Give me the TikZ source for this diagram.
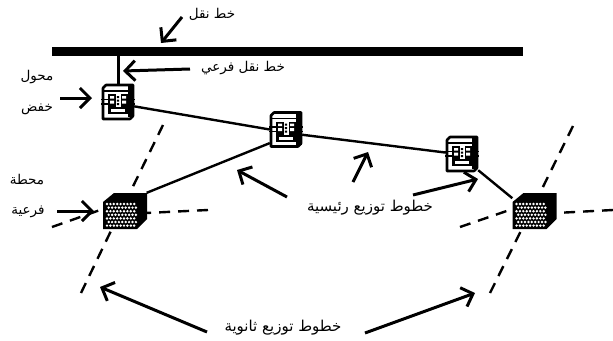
\documentclass[tikz,border=0pt]{standalone}
\usepackage{fontspec}
\usetikzlibrary{arrows.meta}
\TeXXeTstate=1
\newfontfamily\arabicfont[Script=Arabic]{DejaVu Sans}
\newcommand{\ar}[1]{{\arabicfont\beginR #1\endR}}
\tikzset{
  lbl/.style={inner sep=0pt,font=\fontsize{13.5}{15}\selectfont},
  lbllong/.style={inner sep=0pt,font=\fontsize{15}{17}\selectfont},
  conn/.style={line width=2.4pt},
  sec/.style={line width=2.4pt,dash pattern=on 11pt off 8pt},
  pointer/.style={line width=3pt,-{Straight Barb[length=10pt,width=20pt,line width=3pt]}},
  boxT/.style={minimum width=32pt,minimum height=36pt,inner sep=0pt},
  boxS/.style={minimum width=44pt,minimum height=36pt,inner sep=0pt}
}
\newcommand{\transformer}[3]{%
  \begin{scope}[shift={(#2,#3)}]
    \draw[fill=white,line width=2.6pt,line join=round] (-15,-14) -- (-12,-17) -- (15,-17) -- (15,14) -- (12,17) -- (-15,17) -- cycle;
    \fill[black] (10,-17) rectangle (15.5,15);
    \draw[line width=1.6pt] (-15,-11) -- (11,-11);
    \fill[black] (-10,-8) rectangle (10,12);
    \fill[white] (-7,7) rectangle (7,10);
    \fill[white] (-8,-6) rectangle (-4,-3.5) (-8,-1.5) rectangle (-4,1.5) (4,-6) rectangle (8,-3.5) (4,-1.5) rectangle (8,1.5);
    \fill[white] (-2.5,-8) rectangle (2.5,5);
    \fill[black] (-1.2,-6) rectangle (1.2,-4) (-1.2,-2.5) rectangle (1.2,-0.5) (-1.2,1) rectangle (1.2,3);
    \draw[line width=1.3pt] (-17,-2.5) -- (-9,-2.5) (-17,2) -- (-9,2) (9,-2.5) -- (17,-2.5) (9,2) -- (17,2);
  \end{scope}}
\newcommand{\station}[3]{%
  \begin{scope}[shift={(#2,#3)}]
    \fill[black] (-22,-9) -- (-11,-18) -- (22,-18) -- (22,8) -- (12,18) -- (-22,18) -- cycle;
    \foreach \r in {0,...,6}{
      \foreach \c in {0,...,8}{
        \fill[white] ({-18+3.4*\c+mod(\r,2)*1.7},{-7+3.6*\r}) circle (1.35pt);
      }
    }
  \end{scope}}
\begin{document}
\begin{tikzpicture}[x=1pt,y=-1pt]
\useasboundingbox (0,0) rectangle (613,340);
% free ends
\coordinate (la) at (163,125);
\coordinate (lb) at (81,293);
\coordinate (lc) at (52,227);
\coordinate (ld) at (208,210);
\coordinate (ra) at (573,126);
\coordinate (rb) at (490,293);
\coordinate (rc) at (460,227);
\coordinate (rd) at (613,210);
% nodes
\node[fill=black,minimum width=471pt,minimum height=9pt,inner sep=0pt] (bus) at (287.5,51.5) {};
\node[boxT] (t1) at (118,102) {};
\node[boxT] (t2) at (286,129.5) {};
\node[boxT] (t3) at (462,154) {};
\node[boxS] (s1) at (125,211) {};
\node[boxS] (s2) at (534.5,211) {};
% connectors
\draw[conn,line width=3pt] (bus.south -| t1) -- (t1.north);
\draw[conn] (t1.-15) -- (t2.180);
\draw[conn] (t2.-18) -- (t3.175);
\draw[conn] (t2.220) -- (s1.40);
\draw[conn] (t3.-45) -- (s2.150);
\draw[sec] (la) -- (s1.75);
\draw[sec] (lb) -- (s1.234);
\draw[sec] (lc) -- (s1.175);
\draw[sec] (ld) -- (s1.-5);
\draw[sec] (ra) -- (s2.73);
\draw[sec] (rb) -- (s2.235);
\draw[sec] (rc) -- (s2.175);
\draw[sec] (rd) -- (s2.-5);
% symbols
\transformer{t1}{118}{102}
\transformer{t2}{286}{129.5}
\transformer{t3}{462}{154}
\station{s1}{125}{211}
\station{s2}{534.5}{211}
% labels
\node[lbl] (n1) at (212,14) {\ar{خط نقل}};
\node[lbl] (n2) at (243,68) {\ar{خط نقل فرعي}};
\node[lbl] (n3) at (37,77) {\ar{محول}};
\node[lbl] (n4) at (37,109) {\ar{خفض}};
\node[lbl] (n5) at (27,180) {\ar{محطة}};
\node[lbl] (n6) at (28,212) {\ar{فرعية}};
\node[lbllong] (n7) at (370,208) {\ar{خطوط توزيع رئيسية}};
\node[lbllong] (n8) at (283,328) {\ar{خطوط توزيع ثانوية}};
% pointers
\coordinate (p1a) at (182,17); \coordinate (p1b) at (161,43);
\coordinate (p2a) at (190,69); \coordinate (p2b) at (123,71);
\coordinate (p3a) at (60,98); \coordinate (p3b) at (92,98);
\coordinate (p4a) at (57,211); \coordinate (p4b) at (94,211);
\coordinate (p5a) at (287,197); \coordinate (p5b) at (237,170);
\coordinate (p6a) at (353,182); \coordinate (p6b) at (368,152);
\coordinate (p7a) at (413,195); \coordinate (p7b) at (478,179);
\coordinate (p8a) at (207,332); \coordinate (p8b) at (100,287);
\coordinate (p9a) at (365,333); \coordinate (p9b) at (475,293);
\foreach \k in {1,...,9}{\draw[pointer] (p\k a) -- (p\k b);}
\end{tikzpicture}
\end{document}
